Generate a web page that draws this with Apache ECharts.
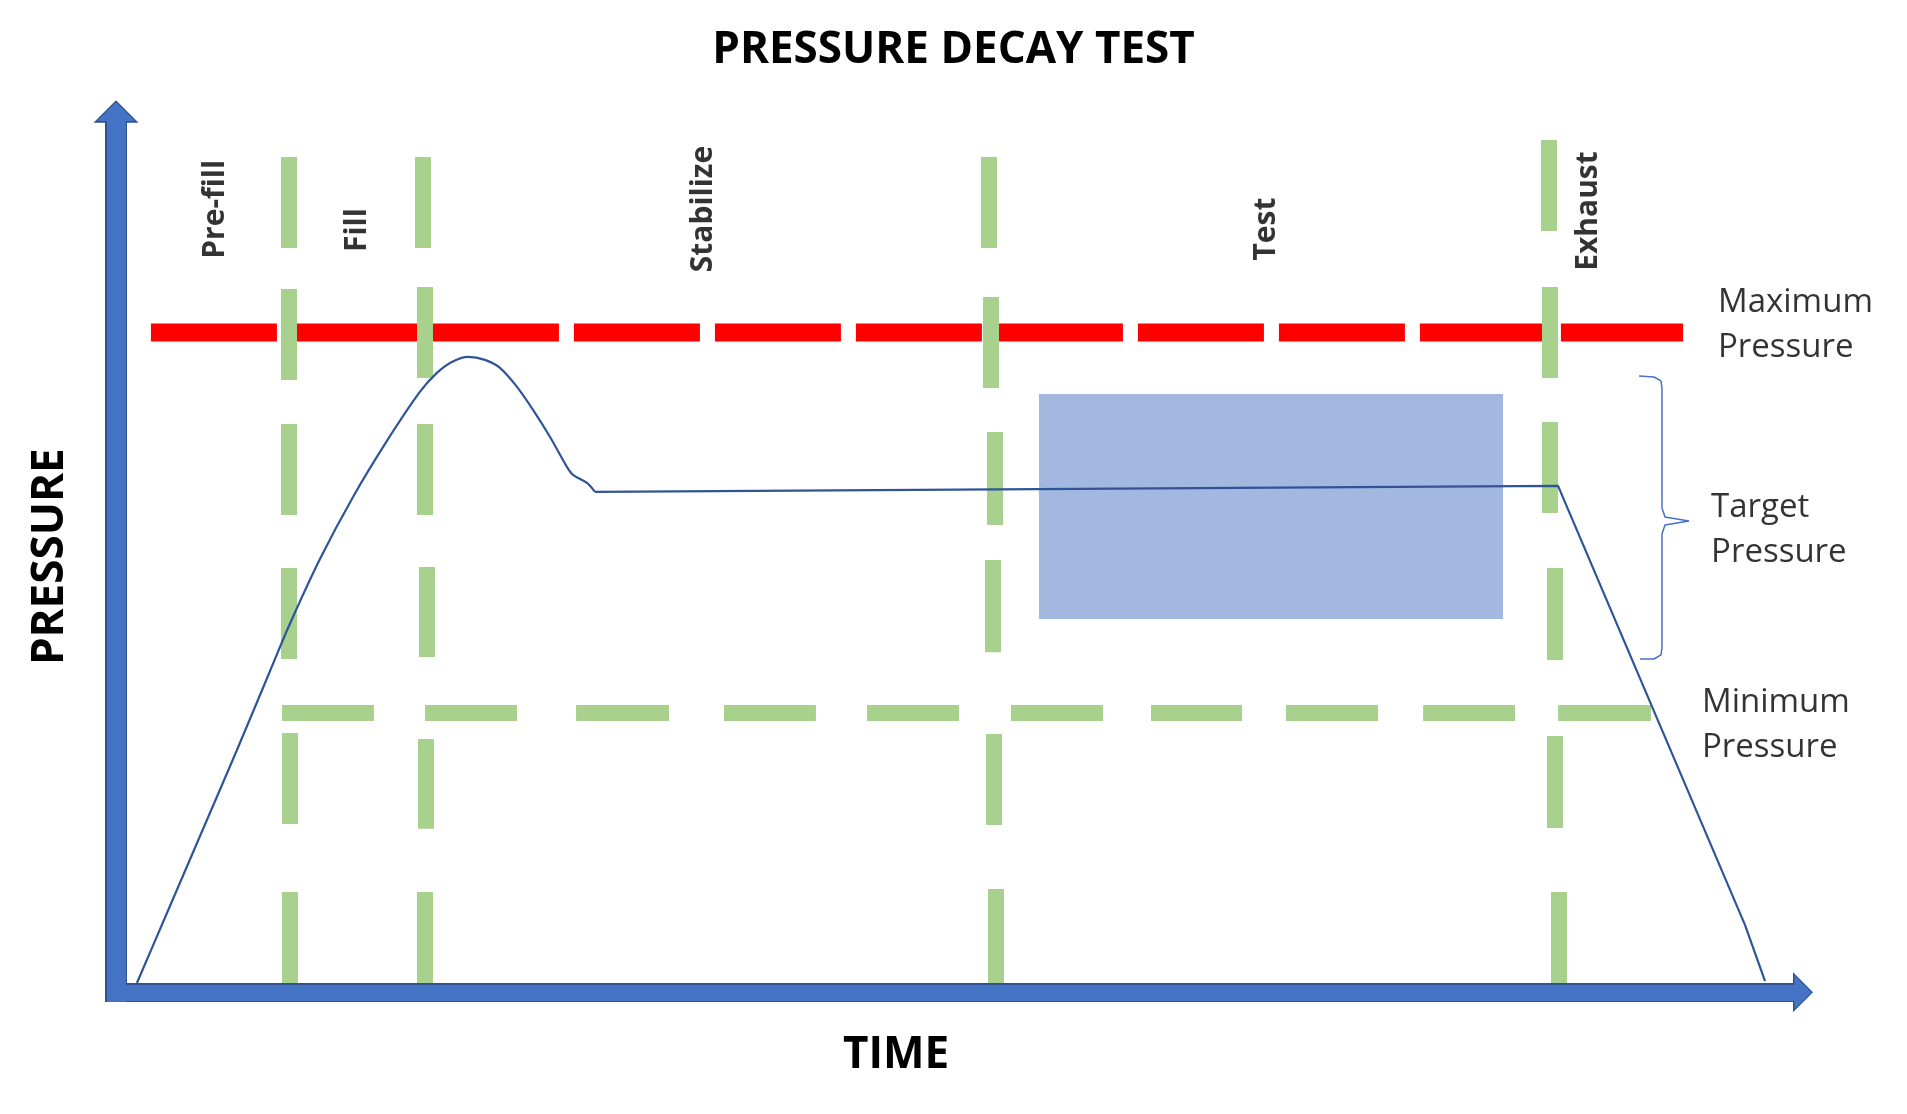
<!DOCTYPE html>
<html>
  <head>
    <meta charset="utf-8">
    <title>Pressure decay test</title>
    <script src="https://cdn.jsdelivr.net/npm/echarts@6.0.0/dist/echarts.min.js"></script>
    <style>
      html, body { margin: 0; padding: 0; background: #fff; }
      #main { width: 1907px; height: 1114px; }
    </style>
  </head>
  <body>
    <div id="main"></div>
    <script type="text/javascript">
      // time runs 0..100 along x, pressure 0..100 up y (arbitrary units)

      // max pressure limit (red dashed line)
      var maxPressure = 74.9
      var maxPressureSpan = [2.07, 92.89]

      // min pressure limit (green dashes), [from, to] along time
      var minPressure = 31.71
      var minPressureDashes = [
        [9.84, 15.29], [18.32, 23.77], [27.27, 32.78], [36.04, 41.49], [44.52, 49.97],
        [53.05, 58.51], [61.35, 66.75], [69.35, 74.81], [77.48, 82.93], [85.48, 90.99]
      ]

      // phase boundaries (green dashes), [time, top, bottom]
      var phaseDashes = [
        [10.25, 94.84, 84.50], [10.25, 79.85, 69.52], [10.25, 64.52, 54.19],
        [10.25, 48.17, 37.84], [10.31, 29.44, 19.11], [10.28, 11.39, 1.05],

        [18.20, 94.84, 84.50], [18.32, 80.08, 69.75], [18.32, 64.52, 54.19],
        [18.44, 48.29, 38.07], [18.38, 28.76, 18.56], [18.32, 11.39, 1.05],

        [51.75, 94.84, 84.50], [51.87, 78.94, 68.61], [52.10, 63.61, 53.05],
        [51.99, 49.07, 38.62], [52.05, 29.33, 19.00], [52.16, 11.73, 1.05],

        [84.94, 96.77, 86.43], [85.00, 80.08, 69.75], [85.00, 64.75, 54.42],
        [85.30, 48.17, 37.73], [85.30, 29.10, 18.66], [85.54, 11.39, 1.05]
      ]

      // pressure trace: fill overshoot (smooth) then hold + exhaust (straight)
      var curveRise = [
        [1.24, 1.06], [3.20, 9.80], [5.16, 18.54], [7.17, 27.51], [9.13, 36.48],
        [10.25, 41.59], [12.09, 49.19], [14.05, 56.24], [16.06, 62.60], [18.01, 68.16],
        [19.02, 70.32], [19.91, 71.57], [20.87, 72.14], [21.87, 71.80],
        [22.76, 70.89], [23.77, 68.73], [24.72, 66.12], [25.73, 63.05], [26.73, 59.65],
        [27.09, 58.74], [27.92, 57.83], [28.39, 56.81]
      ]
      var curveHold = [[28.39, 56.81], [85.48, 57.49], [96.56, 7.65], [97.75, 1.28]]

      // test window (blue box) corners
      var testWindow = [[54.71, 67.93], [82.22, 42.38]]

      // target pressure brace
      var braceLine = [
        [90.28, 69.97], [91.17, 69.86], [91.58, 69.41], [91.64, 68.61], [91.64, 54.98],
        [91.82, 53.96], [93.24, 53.51], [91.82, 53.05], [91.64, 52.03], [91.64, 39.09],
        [91.58, 38.30], [91.17, 37.84], [90.34, 37.84]
      ]

      var phaseNames = ['Pre-fill', 'Fill', 'Stabilize', 'Test', 'Exhaust']
      var phasePos = [[5.87, 88.9], [14.29, 86.54], [34.80, 88.93], [68.17, 86.66], [87.26, 88.70]]

      var levelNames = ['Maximum\nPressure', 'Target\nPressure', 'Minimum\nPressure']
      var levelPos = [[94.96, 75.75], [94.55, 52.49], [94.01, 30.34]]

      var FONT = 'Open Sans'
      // flat-based arrow head, pointing up before the axis rotates it
      var ARROW = 'path://M0 10 L10 0 L20 10 Z'
      var AXIS_FILL = '#4472C4'
      var AXIS_EDGE = '#2F528F'

      var myChart = echarts.init(document.getElementById('main'))

      var greenLines = phaseDashes.map(function (d) {
        return { coords: [[d[0], d[1]], [d[0], d[2]]] }
      }).concat(minPressureDashes.map(function (d) {
        return { coords: [[d[0], minPressure], [d[1], minPressure]] }
      }))

      var bigText = { fontSize: 44, fontWeight: 'bold', color: '#000', fontFamily: FONT }
      var hidden = {
        axisTick: { show: false }, axisLabel: { show: false }, splitLine: { show: false }
      }

      // each axis is drawn twice: a dark edge underneath, the fill on top
      function timeAxis(width, arrow, color, z) {
        return Object.assign({
          type: 'value', min: 0, max: 100, position: 'bottom', z: z,
          axisLine: {
            onZero: true, symbol: ['none', ARROW], symbolSize: arrow,
            lineStyle: { color: color, width: width, cap: 'butt' }
          }
        }, hidden)
      }
      function pressureAxis(width, arrow, color, z) {
        return Object.assign({
          type: 'value', min: -1.1, max: 100, position: 'left', z: z,
          axisLine: {
            onZero: true, symbol: ['none', ARROW], symbolSize: arrow,
            lineStyle: { color: color, width: width, cap: 'butt' }
          }
        }, hidden)
      }

      var yMain = pressureAxis(19, [41, 19], AXIS_FILL, 1)
      yMain.name = 'PRESSURE'
      yMain.nameLocation = 'middle'
      yMain.nameRotate = 90
      yMain.nameGap = 44
      yMain.nameTextStyle = bigText

      var option = {
        animation: false,
        backgroundColor: '#fff',
        textStyle: { fontFamily: FONT },
        title: [
          { text: 'PRESSURE DECAY TEST', left: 'center', top: 23, textStyle: bigText },
          { text: 'TIME', left: 838, top: 1028, textStyle: bigText }
        ],
        grid: { left: 116, right: 104, top: 111.5, bottom: 112 },
        xAxis: [
          timeAxis(16, [36, 17], AXIS_FILL, 1),
          timeAxis(19, [40, 20], AXIS_EDGE, 0)
        ],
        yAxis: [
          yMain,
          pressureAxis(22, [45, 23], AXIS_EDGE, 0)
        ],
        series: [
          {
            name: 'Maximum pressure', type: 'line', z: 2, silent: true,
            data: maxPressureSpan.map(function (x) { return [x, maxPressure] }),
            symbol: 'none',
            lineStyle: { color: '#FF0000', width: 18, type: [126, 15] }
          },
          {
            name: 'Test window', type: 'line', z: 3, silent: true, data: [],
            markArea: {
              silent: true,
              itemStyle: { color: '#A2B8E0', opacity: 1 },
              data: [[{ coord: testWindow[0] }, { coord: testWindow[1] }]]
            }
          },
          {
            name: 'Limits', type: 'lines', coordinateSystem: 'cartesian2d', z: 4, silent: true,
            data: greenLines,
            lineStyle: { color: '#A9D18E', width: 16, opacity: 1 }
          },
          {
            name: 'Pressure', type: 'line', z: 5, silent: true,
            data: curveRise, smooth: 0.3, symbol: 'none',
            lineStyle: { color: '#2F5597', width: 2.2 }
          },
          {
            name: 'Pressure hold', type: 'line', z: 5, silent: true,
            data: curveHold, symbol: 'none',
            lineStyle: { color: '#2F5597', width: 2.2 }
          },
          {
            name: 'Target brace', type: 'line', z: 5, silent: true,
            data: braceLine, symbol: 'none',
            lineStyle: { color: '#4472C4', width: 1.5 }
          },
          {
            name: 'Phases', type: 'scatter', z: 6, silent: true,
            symbolSize: 1, itemStyle: { color: 'rgba(0,0,0,0)' },
            data: phaseNames.map(function (n, i) { return { name: n, value: phasePos[i] } }),
            label: {
              show: true, position: 'inside', rotate: 90,
              align: 'center', verticalAlign: 'middle',
              formatter: function (p) { return p.name },
              fontSize: 30, fontWeight: 'bold', color: '#000', fontFamily: FONT
            }
          },
          {
            name: 'Levels', type: 'scatter', z: 6, silent: true,
            symbolSize: 1, itemStyle: { color: 'rgba(0,0,0,0)' },
            data: levelNames.map(function (n, i) { return { name: n, value: levelPos[i] } }),
            label: {
              show: true, position: 'inside',
              align: 'left', verticalAlign: 'middle',
              formatter: function (p) { return p.name },
              fontSize: 33, lineHeight: 45, color: '#000', fontFamily: FONT
            }
          }
        ]
      }

      myChart.setOption(option)
    </script>
  </body>
</html>
